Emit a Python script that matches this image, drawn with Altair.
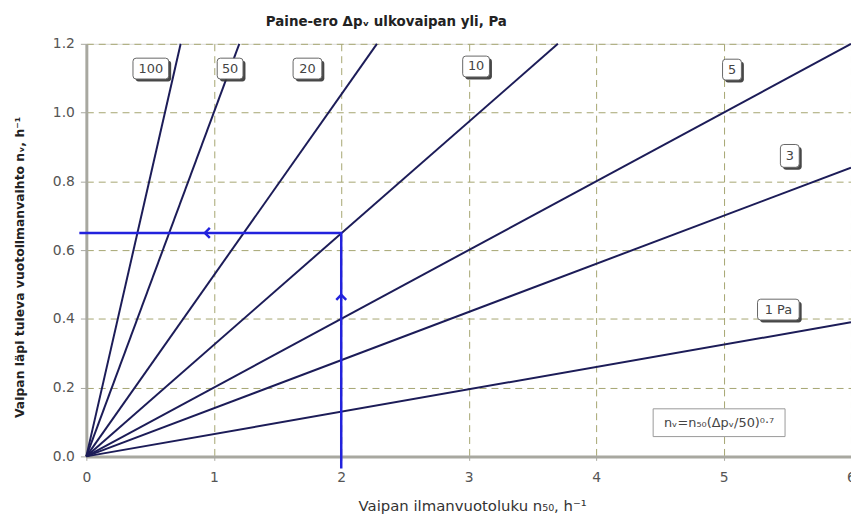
import altair as alt
import pandas as pd

# Pressure-difference lines (Pa) and where each line ends
pressures = ["1 Pa", "3", "5", "10", "20", "50", "100"]
end_x = [6.0, 6.0, 6.0, 3.70, 2.28, 1.20, 0.74]
end_y = [0.39, 0.84, 1.20, 1.20, 1.20, 1.20, 1.20]

# Label boxes
label_text = ["100", "50", "20", "10", "5", "3", "1 Pa"]
label_x = [0.506, 1.128, 1.735, 3.058, 5.066, 5.52, 5.43]
label_y = [1.128, 1.128, 1.128, 1.134, 1.125, 0.874, 0.427]
label_w = [36, 26, 29, 27, 19, 19, 42]
label_h = [21, 21, 21, 21, 21, 23, 21]

# Blue reading-example path
path_x = [2.0, 2.0, -0.055]
path_y = [-0.035, 0.65, 0.65]
arrow_x = [2.0, 0.93]
arrow_y = [0.47, 0.65]
arrow_dir = ["up", "left"]

formula = "nᵥ=n₅₀(Δpᵥ/50)⁰·⁷"
formula_x = 4.965
formula_y = 0.098

rows = []
for p, ex, ey in zip(pressures, end_x, end_y):
    rows.append({"p": p, "x": 0.0, "y": 0.0})
    rows.append({"p": p, "x": ex, "y": ey})
lines_df = pd.DataFrame(rows)


def box_path(w, h, rad=0.0):
    a = w / h
    if rad <= 0:
        return f"M{-a},-1 H{a} V1 H{-a} Z"
    r = rad
    return (f"M{-a + r},-1 H{a - r} Q{a},-1 {a},{-1 + r} V{1 - r} Q{a},1 {a - r},1 "
            f"H{-a + r} Q{-a},1 {-a},{1 - r} V{-1 + r} Q{-a},-1 {-a + r},-1 Z")


labels_df = pd.DataFrame({
    "t": label_text, "x": label_x, "y": label_y,
    "shape": [box_path(w, h, 0.3) for w, h in zip(label_w, label_h)],
    "size": [h * h for h in label_h],
})
path_df = pd.DataFrame({"x": path_x, "y": path_y, "o": list(range(len(path_x)))})
arrow_shapes = {"up": "M-1,1 L0,0 L1,1", "left": "M1,-1 L0,0 L1,1"}
arrow_df = pd.DataFrame({"x": arrow_x, "y": arrow_y,
                         "shape": [arrow_shapes[d] for d in arrow_dir]})
formula_df = pd.DataFrame({"t": [formula], "x": [formula_x], "y": [formula_y],
                           "shape": [box_path(133, 28)], "size": [28 * 28]})

FONT = "DejaVu Sans"
xscale = alt.Scale(domain=[0, 6], nice=False, zero=False)
yscale = alt.Scale(domain=[0, 1.2], nice=False, zero=False)

X = alt.X("x:Q", scale=xscale, axis=alt.Axis(
    title="Vaipan ilmanvuotoluku n₅₀, h⁻¹", values=[0, 1, 2, 3, 4, 5, 6], format="d",
    titleX=389, titleY=50, titleBaseline="middle", titleFontSize=15,
    titleFontWeight="normal", titleColor="#333", titleFont=FONT,
    labelFont=FONT, labelFontSize=14, labelColor="#555", labelPadding=10,
    grid=True, gridColor="#a5a570", gridDash=[7, 5], gridWidth=1,
    domainColor="#a8a8a0", domainWidth=3, tickColor="#a8a8a0", tickSize=4,
    labelFlush=False))
Y = alt.Y("y:Q", scale=yscale, axis=alt.Axis(
    title="Vaipan läpi tuleva vuotoilmanvaihto nᵥ, h⁻¹",
    values=[0, 0.2, 0.4, 0.6, 0.8, 1.0, 1.2], format=".1f",
    titleX=-67, titleY=225, titleBaseline="middle", titleAngle=-90,
    titleFontSize=12.5, titleFontWeight="bold", titleColor="#222", titleFont=FONT,
    labelFont=FONT, labelFontSize=14, labelColor="#555", labelPadding=6,
    grid=True, gridColor="#a5a570", gridDash=[7, 5], gridWidth=1,
    domainColor="#a8a8a0", domainWidth=3, tickColor="#a8a8a0", tickSize=6))

lines = alt.Chart(lines_df).mark_line(color="#1c1c58", strokeWidth=2).encode(
    x=X, y=Y, detail="p:N")

blue = alt.Chart(path_df).mark_line(color="#2222dd", strokeWidth=2.5, clip=False).encode(
    x="x:Q", y="y:Q", order="o:Q")
arrows = alt.Chart(arrow_df).mark_point(color="#2222dd", filled=False, strokeWidth=2.5,
                                        size=100, opacity=1).encode(
    x="x:Q", y="y:Q", shape=alt.Shape("shape:N", scale=None))

shadow = alt.Chart(labels_df).mark_point(filled=True, color="#333333", opacity=0.9,
                                         xOffset=2.5, yOffset=2.5).encode(
    x="x:Q", y="y:Q", shape=alt.Shape("shape:N", scale=None),
    size=alt.Size("size:Q", scale=None))
boxes = alt.Chart(labels_df).mark_point(filled=True, fill="white", stroke="#666",
                                        strokeWidth=1, opacity=1).encode(
    x="x:Q", y="y:Q", shape=alt.Shape("shape:N", scale=None),
    size=alt.Size("size:Q", scale=None))
texts = alt.Chart(labels_df).mark_text(font=FONT, fontSize=13, color="#444").encode(
    x="x:Q", y="y:Q", text="t:N")

fbox = alt.Chart(formula_df).mark_point(filled=True, fill="white", stroke="#999",
                                        strokeWidth=1, opacity=1).encode(
    x="x:Q", y="y:Q", shape=alt.Shape("shape:N", scale=None),
    size=alt.Size("size:Q", scale=None))
ftext = alt.Chart(formula_df).mark_text(font=FONT, fontSize=13, color="#444").encode(
    x="x:Q", y="y:Q", text="t:N")

chart = alt.layer(lines, blue, arrows, shadow, boxes, texts, fbox, ftext).properties(
    width=771, height=416,
    title=alt.TitleParams("Paine-ero Δpᵥ ulkovaipan yli, Pa", anchor="start", dx=254,
                          offset=8, fontSize=13.5, fontWeight="bold", font=FONT,
                          color="#222"),
    autosize=alt.AutoSizeParams(type="none"),
    padding={"left": 79, "top": 34, "right": 0, "bottom": 60},
).configure_view(fill="#ffffc2", stroke="#a8a8a0", strokeWidth=2).configure(background="white")

chart.save("out.html", embed_options={"renderer": "svg", "actions": False})
